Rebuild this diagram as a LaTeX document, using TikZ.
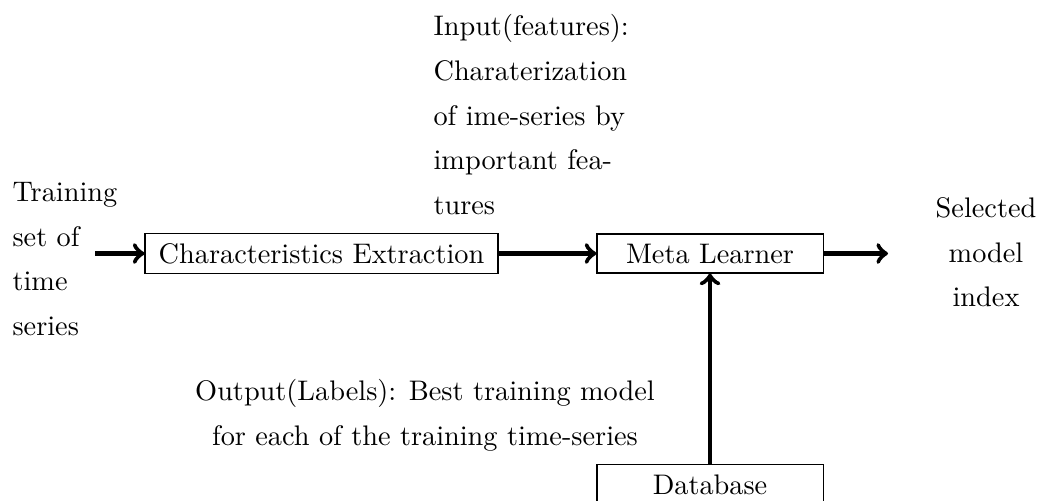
\documentclass[tikz,border=0pt]{standalone}
\begin{document}
\begin{tikzpicture}[x=0.35336pt,y=-0.35336pt,
  lbl/.style={inner sep=0pt,font=\fontsize{10}{15.8}\selectfont},
  boxnode/.style={draw,line width=0.4pt,inner sep=3.33pt,minimum height=13.8pt,font=\fontsize{10}{12}\selectfont},
  flow/.style={->,line width=1.6pt}]
\useasboundingbox (0,0) rectangle (1040,500);
\node[boxnode,minimum width=124.7pt] (ce) at (321.5,253.5) {Characteristics Extraction};
\node[boxnode,minimum width=79.9pt] (ml) at (710,253.5) {Meta Learner};
\node[boxnode,minimum width=79.9pt,minimum height=14.5pt,anchor=north] (db) at (710,464) {Database};
\coordinate (start) at (95,253.5);
\coordinate (finish) at (888,253.5);
\node[lbl,align=left,anchor=north west] (train) at (12,181.7) {Training\\set of\\time\\series};
\node[lbl,align=left,anchor=north west] (inp) at (433,13.8) {Input(features):\\Charaterization\\of ime-series by\\important fea-\\tures};
\node[lbl,align=center,anchor=north] (sel) at (986,197) {Selected\\model\\index};
\node[lbl,align=center,anchor=north] (outl) at (425,379) {Output(Labels): Best training model\\for each of the training time-series};
\draw[flow] (start) -- (ce);
\draw[flow] (ce) -- (ml);
\draw[flow] (ml) -- (finish);
\draw[flow] (db) -- (ml);
\end{tikzpicture}
\end{document}
